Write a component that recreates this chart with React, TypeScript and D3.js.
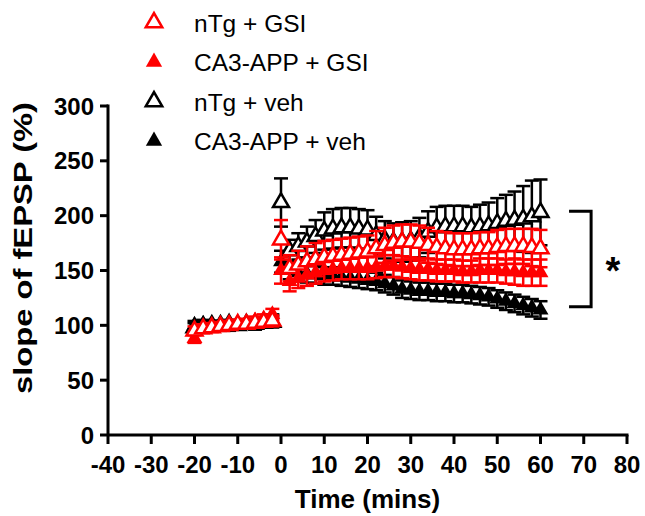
import React from "react";
import * as d3 from "d3";

// ---- data ----
const timeBase = [-20, -18, -16, -14, -12, -10, -8, -6, -4, -2];
const timePost = [0, 2, 4, 6, 8, 10, 12, 14, 16, 18, 20, 22, 24, 26, 28, 30, 32, 34, 36, 38, 40, 42, 44, 46, 48, 50, 52, 54, 56, 58, 60];

const nTgGSIBase = [95, 97, 98, 99, 100, 101, 101, 102, 103, 104];
const nTgGSIPost = [178, 152, 155, 158, 160, 162, 163, 164, 165, 166, 167, 170, 173, 175, 176, 176, 175, 173, 171, 170, 169, 169, 169, 170, 170, 171, 172, 172, 172, 171, 170];
const nTgGSIErrBase = [4, 4, 4, 4, 4, 4, 4, 4, 4, 5];
const nTgGSIErrPost = [18, 12, 13, 14, 15, 15, 15, 15, 15, 15, 15, 16, 16, 16, 16, 16, 16, 16, 15, 15, 15, 15, 15, 15, 15, 16, 16, 16, 16, 17, 17];

const appGSIBase = [88, 97, 98, 99, 100, 101, 102, 104, 106, 110];
const appGSIPost = [150, 140, 143, 146, 148, 150, 151, 152, 152, 152, 152, 153, 154, 154, 153, 152, 151, 151, 150, 150, 150, 149, 149, 150, 150, 150, 149, 149, 148, 148, 148];
const appGSIErrBase = [4, 4, 4, 4, 4, 4, 4, 4, 4, 5];
const appGSIErrPost = [12, 9, 9, 10, 10, 10, 10, 10, 10, 10, 10, 10, 10, 10, 10, 10, 10, 10, 10, 10, 10, 10, 10, 11, 11, 11, 11, 12, 12, 12, 12];

const nTgVehBase = [98, 99, 100, 100, 101, 100, 101, 101, 102, 103];
const nTgVehPost = [212, 168, 172, 176, 181, 186, 188, 189, 189, 188, 187, 182, 178, 176, 176, 177, 180, 185, 189, 190, 190, 190, 189, 190, 191, 193, 195, 196, 197, 199, 203];
const nTgVehErrBase = [4, 4, 4, 4, 4, 4, 4, 4, 4, 5];
const nTgVehErrPost = [22, 10, 12, 14, 15, 17, 18, 18, 18, 18, 18, 17, 17, 17, 18, 18, 18, 19, 19, 19, 19, 19, 19, 20, 21, 23, 24, 26, 30, 33, 30];

const appVehBase = [100, 101, 100, 100, 99, 100, 101, 100, 102, 105];
const appVehPost = [158, 150, 148, 147, 146, 145, 145, 144, 143, 142, 141, 140, 138, 136, 133, 132, 131, 131, 130, 130, 129, 129, 128, 127, 126, 124, 122, 120, 118, 116, 114];
const appVehErrBase = [4, 4, 4, 4, 4, 4, 4, 4, 4, 5];
const appVehErrPost = [10, 8, 8, 8, 8, 8, 8, 8, 8, 8, 8, 8, 8, 8, 8, 8, 8, 8, 8, 8, 8, 8, 8, 8, 8, 8, 8, 8, 8, 8, 8];

const legendLabels = ["nTg + GSI", "CA3-APP + GSI", "nTg + veh", "CA3-APP + veh"];
const xTicks = [-40, -30, -20, -10, 0, 10, 20, 30, 40, 50, 60, 70, 80];
const yTicks = [0, 50, 100, 150, 200, 250, 300];
const bracketRange = [204, 117];
const bracketX = [66.6, 71.7];

const FONT = "'Liberation Sans', Arial, Helvetica, sans-serif";

type Series = {
  name: string;
  color: string;
  open: boolean;
  t: number[];
  v: number[];
  e: number[];
};

const series: Series[] = [
  { name: legendLabels[3], color: "#000000", open: false, t: [...timeBase, ...timePost], v: [...appVehBase, ...appVehPost], e: [...appVehErrBase, ...appVehErrPost] },
  { name: legendLabels[2], color: "#000000", open: true, t: [...timeBase, ...timePost], v: [...nTgVehBase, ...nTgVehPost], e: [...nTgVehErrBase, ...nTgVehErrPost] },
  { name: legendLabels[1], color: "#ff0000", open: false, t: [...timeBase, ...timePost], v: [...appGSIBase, ...appGSIPost], e: [...appGSIErrBase, ...appGSIErrPost] },
  { name: legendLabels[0], color: "#ff0000", open: true, t: [...timeBase, ...timePost], v: [...nTgGSIBase, ...nTgGSIPost], e: [...nTgGSIErrBase, ...nTgGSIErrPost] },
];

const legendItems = [
  { label: legendLabels[0], color: "#ff0000", open: true },
  { label: legendLabels[1], color: "#ff0000", open: false },
  { label: legendLabels[2], color: "#000000", open: true },
  { label: legendLabels[3], color: "#000000", open: false },
];

export default function App() {
  const W = 645;
  const H = 516;
  const x = d3.scaleLinear().domain([-40, 80]).range([108, 627]);
  const y = d3.scaleLinear().domain([0, 300]).range([435, 106]);
  const tri = d3.symbol().type(d3.symbolTriangle).size(110)() as string;
  const triLegend = d3.symbol().type(d3.symbolTriangle).size(115)() as string;
  const capW = 7;

  return (
    <svg width={W} height={H} style={{ position: "absolute", left: 0, top: 0, background: "#fff" }} fontFamily={FONT}>
      {/* legend */}
      {legendItems.map((it, i) => {
        const by = 31.5 + i * 39.5;
        return (
          <g key={it.label}>
            <path
              d={triLegend}
              transform={`translate(154,${by - 9})`}
              fill={it.open ? "#fff" : it.color}
              stroke={it.color}
              strokeWidth={it.open ? 2.6 : 0}
            />
            <text x={194} y={by} fontSize={24.5} fill="#000">{it.label}</text>
          </g>
        );
      })}

      {/* data */}
      {series.map((s) => (
        <g key={s.name}>
          {s.t.map((t, i) => {
            const cx = x(t);
            const top = y(s.v[i] + s.e[i]);
            const bot = y(s.v[i] - s.e[i]);
            return (
              <g key={i} stroke={s.color} strokeWidth={2.5} fill="none">
                <line x1={cx} x2={cx} y1={top} y2={bot} />
                <line x1={cx - capW} x2={cx + capW} y1={top} y2={top} />
                <line x1={cx - capW} x2={cx + capW} y1={bot} y2={bot} />
              </g>
            );
          })}
          {s.t.map((t, i) => (
            <path
              key={"m" + i}
              d={tri}
              transform={`translate(${x(t)},${y(s.v[i])})`}
              fill={s.open ? "#fff" : s.color}
              stroke={s.color}
              strokeWidth={s.open ? 2.5 : 0}
            />
          ))}
        </g>
      ))}

      {/* axes */}
      <g stroke="#000" strokeWidth={3} fill="none">
        <line x1={x(-40)} x2={x(80) + 1.5} y1={y(0)} y2={y(0)} />
        <line x1={x(-40)} x2={x(-40)} y1={y(300) - 1.5} y2={y(0)} />
        {xTicks.map((t) => (
          <line key={"xt" + t} x1={x(t)} x2={x(t)} y1={y(0)} y2={y(0) + 9} />
        ))}
        {yTicks.map((v) => (
          <line key={"yt" + v} x1={x(-40) - 8} x2={x(-40)} y1={y(v)} y2={y(v)} />
        ))}
      </g>
      {xTicks.map((t) => (
        <text key={"xl" + t} x={x(t)} y={473} textAnchor="middle" fontSize={24} fontWeight="bold">{t}</text>
      ))}
      {yTicks.map((v) => (
        <text key={"yl" + v} x={94} y={y(v) + 8.5} textAnchor="end" fontSize={24} fontWeight="bold">{v}</text>
      ))}
      <text x={x(20)} y={508} textAnchor="middle" fontSize={26} fontWeight="bold">Time (mins)</text>
      <text
        transform={`translate(32,248) rotate(-90)`}
        textAnchor="middle"
        fontSize={26}
        fontWeight="bold"
        textLength={292}
        lengthAdjust="spacingAndGlyphs"
      >
        slope of fEPSP (%)
      </text>

      {/* significance bracket */}
      <path
        d={`M${x(bracketX[0])},${y(bracketRange[0])} H${x(bracketX[1])} V${y(bracketRange[1])} H${x(bracketX[0])}`}
        stroke="#000"
        strokeWidth={3}
        fill="none"
      />
      <text x={613} y={284} textAnchor="middle" fontSize={38} fontWeight="bold">*</text>
    </svg>
  );
}
